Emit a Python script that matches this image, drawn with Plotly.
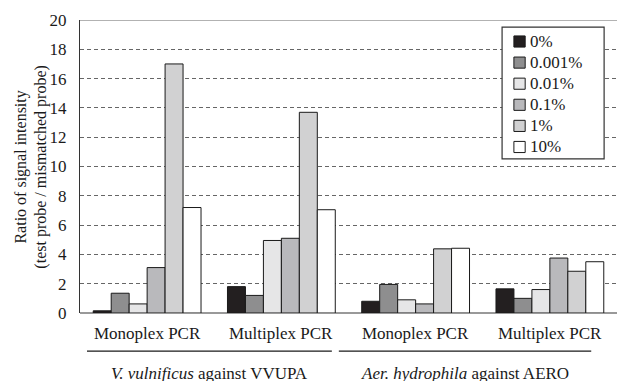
import plotly.graph_objects as go

categories = ["Monoplex PCR (V)", "Multiplex PCR (V)", "Monoplex PCR (A)", "Multiplex PCR (A)"]
category_labels = ["Monoplex PCR", "Multiplex PCR", "Monoplex PCR", "Multiplex PCR"]
group_labels = ["<i>V. vulnificus</i> against VVUPA", "<i>Aer. hydrophila</i> against AERO"]

series_names = ["0%", "0.001%", "0.01%", "0.1%", "1%", "10%"]
v_0 = [0.15, 1.8, 0.8, 1.65]
v_0001 = [1.35, 1.2, 1.95, 1.0]
v_001 = [0.62, 4.95, 0.9, 1.6]
v_01 = [3.1, 5.1, 0.62, 3.75]
v_1 = [17.0, 13.7, 4.38, 2.85]
v_10 = [7.2, 7.05, 4.42, 3.5]
series_values = [v_0, v_0001, v_001, v_01, v_1, v_10]
series_colors = ["#231f20", "#8e8e8f", "#e6e6e7", "#b9b9bc", "#d1d1d2", "#ffffff"]

y_ticks = [0, 2, 4, 6, 8, 10, 12, 14, 16, 18, 20]

FONT = "'Liberation Serif', 'Times New Roman', Times, serif"
INK = "#1a1a1a"

fig = go.Figure()
for name, vals, col in zip(series_names, series_values, series_colors):
    fig.add_trace(go.Bar(
        x=categories, y=vals, name=name,
        marker=dict(color=col, line=dict(color=INK, width=1)),
    ))

fig.update_layout(
    width=617, height=381,
    margin=dict(l=80, r=0, t=20, b=68, autoexpand=False),
    paper_bgcolor="white", plot_bgcolor="white",
    barmode="group", bargap=0.197, bargroupgap=0,
    font=dict(family=FONT, size=15, color=INK),
    showlegend=False,
    xaxis=dict(
        showticklabels=False, showgrid=False, zeroline=False,
        showline=False, ticks="",
    ),
    yaxis=dict(
        range=[0, 20], tickvals=y_ticks,
        showgrid=True, gridcolor="#666666", griddash="4px,3px", gridwidth=1,
        zeroline=True, zerolinecolor="#999999", zerolinewidth=1.5,
        showline=True, linecolor="#333333", linewidth=1.2,
        ticks="", ticklabelstandoff=9,
        tickfont=dict(family=FONT, size=17, color=INK),
    ),
)

# top border line at y=20
fig.add_shape(type="line", xref="paper", yref="y", x0=0, x1=1, y0=20, y1=20,
              line=dict(color="#999999", width=1.5))

# legend (box, swatches and labels built from the series lists)
fig.add_shape(type="rect", xref="paper", yref="paper", x0=0.786, x1=0.976,
              y0=0.526, y1=0.976, line=dict(color="#333333", width=1.2),
              fillcolor="white", layer="above")
leg_top, leg_step, half = 0.9266, 0.072, 0.019
for i, (name, col) in enumerate(zip(series_names, series_colors)):
    yc = leg_top - i * leg_step
    fig.add_shape(type="rect", xref="paper", yref="paper", x0=0.808, x1=0.829,
                  y0=yc - half, y1=yc + half, fillcolor=col,
                  line=dict(color=INK, width=1), layer="above")
    fig.add_annotation(x=0.834, y=yc, xref="paper", yref="paper", text=name,
                       showarrow=False, xanchor="left", yanchor="middle",
                       font=dict(family=FONT, size=17, color=INK))

# category labels under each group
for cat, lab in zip(categories, category_labels):
    fig.add_annotation(x=cat, y=0, xref="x", yref="y", yshift=-20,
                       text=lab, showarrow=False,
                       font=dict(family=FONT, size=17, color=INK))

# underlines for the two organism groups (paper coords)
fig.add_shape(type="line", xref="paper", yref="paper", x0=0.013, x1=0.469,
              y0=-0.130, y1=-0.130, line=dict(color=INK, width=1.2))
fig.add_shape(type="line", xref="paper", yref="paper", x0=0.482, x1=0.952,
              y0=-0.130, y1=-0.130, line=dict(color=INK, width=1.2))

fig.add_annotation(x=0.241, y=-0.168, xref="paper", yref="paper",
                   text=group_labels[0], showarrow=False, yanchor="top", xanchor="center",
                   font=dict(family=FONT, size=17, color=INK))
fig.add_annotation(x=0.717, y=-0.168, xref="paper", yref="paper",
                   text=group_labels[1], showarrow=False, yanchor="top", xanchor="center",
                   font=dict(family=FONT, size=17, color=INK))

# y-axis title (two lines)
fig.add_annotation(x=-0.091, y=0.5, xref="paper", yref="paper",
                   text="Ratio of signal intensity<br>(test probe / mismatched probe)",
                   textangle=-90, showarrow=False, xanchor="center", yanchor="middle",
                   font=dict(family=FONT, size=16, color=INK))

fig.write_html("out.html", config={"displayModeBar": False},
               post_script="document.body.style.margin='0px';document.body.style.padding='0px';")
